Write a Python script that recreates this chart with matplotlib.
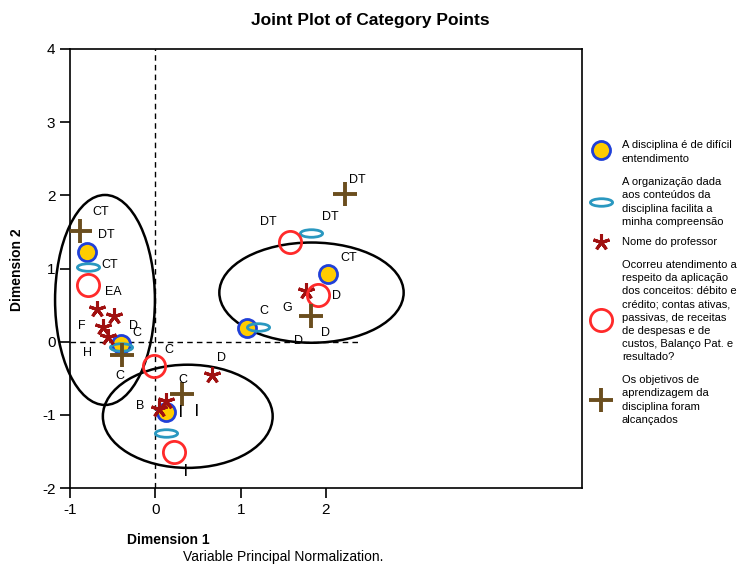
import matplotlib
matplotlib.use("Agg")
import matplotlib.pyplot as plt
from matplotlib.path import Path
from matplotlib.transforms import Affine2D
from matplotlib.patches import Ellipse
from matplotlib.lines import Line2D

plt.rcParams['font.family'] = ['Liberation Sans', 'DejaVu Sans']
plt.rcParams['axes.unicode_minus'] = False

# ---- data ----
difficult_x = [-0.80, -0.40, 0.13, 1.08, 2.02]
difficult_y = [1.23, -0.03, -0.96, 0.19, 0.93]

organiz_x = [-0.79, -0.40, 0.13, 1.20, 1.83]
organiz_y = [1.02, -0.07, -1.25, 0.20, 1.49]

professor_x = [-0.68, -0.49, -0.61, -0.56, 0.04, 0.13, 0.66, 1.76]
professor_y = [0.45, 0.35, 0.20, 0.06, -0.92, -0.81, -0.46, 0.69]

atendimento_x = [-0.79, -0.02, 0.22, 1.58, 1.91]
atendimento_y = [0.77, -0.33, -1.51, 1.36, 0.64]

objetivos_x = [-0.88, -0.39, 0.31, 2.22, 1.82]
objetivos_y = [1.51, -0.18, -0.72, 2.02, 0.35]

point_labels = ["CT", "DT", "CT", "EA", "F", "D", "C", "H", "C", "C", "C", "D", "B",
                "DT", "DT", "DT", "CT", "D", "C", "G", "D", "D", "ı", "ı", "ı"]
label_x = [-0.64, -0.58, -0.54, -0.49, -0.86, -0.25, -0.22, -0.79, -0.42, 0.16, 0.32, 0.78, -0.18,
           2.37, 1.32, 2.05, 2.27, 2.12, 1.27, 1.55, 1.68, 1.99, 0.30, 0.49, 0.36]
label_y = [1.77, 1.46, 1.05, 0.68, 0.21, 0.21, 0.12, -0.16, -0.47, -0.11, -0.52, -0.22, -0.88,
           2.21, 1.64, 1.70, 1.14, 0.62, 0.42, 0.46, 0.01, 0.12, -0.95, -0.93, -1.75]

# cluster ellipses: center x, center y, width, height
cluster_cx = [-0.59, 0.38, 1.83]
cluster_cy = [0.57, -1.02, 0.67]
cluster_w = [1.17, 1.99, 2.16]
cluster_h = [2.87, 1.41, 1.37]

x_ticks = [-1, 0, 1, 2]
y_ticks = [-2, -1, 0, 1, 2, 3, 4]

legend_labels = [
    "A disciplina é de difícil\nentendimento",
    "A organização dada\naos conteúdos da\ndisciplina facilita a\nminha compreensão",
    "Nome do professor",
    "Ocorreu atendimento a\nrespeito da aplicação\ndos conceitos: débito e\ncrédito; contas ativas,\npassivas, de receitas\nde despesas e de\ncustos, Balanço Pat. e\nresultado?",
    "Os objetivos de\naprendizagem da\ndisciplina foram\nalcançados",
]

# ---- styles ----
ell_marker = Path.unit_circle().transformed(Affine2D().scale(1.0, 0.34))
styles = [
    dict(marker='o', markersize=13, markerfacecolor='#FFCC00', markeredgecolor='#2040D8', markeredgewidth=2),
    dict(marker=ell_marker, markersize=16, markerfacecolor='none', markeredgecolor='#2A98C0', markeredgewidth=2),
    dict(marker=(5, 2, 0), markersize=12, markerfacecolor='#A01010', markeredgecolor='#A01010', markeredgewidth=2.2),
    dict(marker='o', markersize=16, markerfacecolor='none', markeredgecolor='#FF2A2A', markeredgewidth=2),
    dict(marker='+', markersize=17, markerfacecolor='none', markeredgecolor='#6B4E1E', markeredgewidth=2.8),
]

fig = plt.figure(figsize=(7.37, 5.65), dpi=100)
ax = fig.add_axes([70/737, 1 - 488/565, 512/737, 439/565])
ax.set_xlim(-1, 5)
ax.set_ylim(-2, 4)

# reference lines
ax.axvline(0, color='black', lw=1, ls=(0, (4, 3)), zorder=1)
ax.plot([-1, 2.37], [0, 0], color='black', lw=1, ls=(0, (4, 3)), zorder=1)

series = [(difficult_x, difficult_y), (organiz_x, organiz_y), (professor_x, professor_y),
          (atendimento_x, atendimento_y), (objetivos_x, objetivos_y)]
for (xs, ys), st in zip(series, styles):
    ax.plot(xs, ys, linestyle='none', zorder=3, **st)

for cx, cy, w, h in zip(cluster_cx, cluster_cy, cluster_w, cluster_h):
    ax.add_patch(Ellipse((cx, cy), w, h, fill=False, edgecolor='black', lw=1.8, zorder=2, clip_on=False))

for t, lx, ly in zip(point_labels, label_x, label_y):
    if t == "ı":
        ax.text(lx, ly, "|", fontsize=9, fontweight='bold', ha='center', va='center', color='black', zorder=4)
    else:
        ax.text(lx, ly, t, fontsize=9, ha='center', va='center', color='black', zorder=4)

ax.set_xticks(x_ticks)
ax.set_yticks(y_ticks)
ax.tick_params(axis='both', labelsize=11, length=7, width=1.2, direction='out')
for s in ax.spines.values():
    s.set_linewidth(1.2)

fig.text(370/737, 1 - 20/565, "Joint Plot of Category Points", fontsize=12.5, fontweight='bold',
         ha='center', va='center')
fig.text(17/737, 1 - 270/565, "Dimension 2", fontsize=10, fontweight='bold', rotation=90,
         ha='center', va='center')
fig.text(168/737, 1 - 540/565, "Dimension 1", fontsize=10, fontweight='bold', ha='center', va='center')
fig.text(283/737, 1 - 557/565, "Variable Principal Normalization.", fontsize=10, ha='center', va='center')

# legend (manual)
marker_py = [150, 202, 242, 320, 400]
text_py = [152, 202, 242, 311, 400]
for lab, st, mpy, tpy in zip(legend_labels, styles, marker_py, text_py):
    fig.add_artist(Line2D([601/737], [1 - mpy/565], transform=fig.transFigure, linestyle='none', **st))
    fig.text(622/737, 1 - tpy/565, lab, fontsize=8.0, ha='left', va='center', linespacing=1.38)

fig.savefig("out.png", dpi=100)
